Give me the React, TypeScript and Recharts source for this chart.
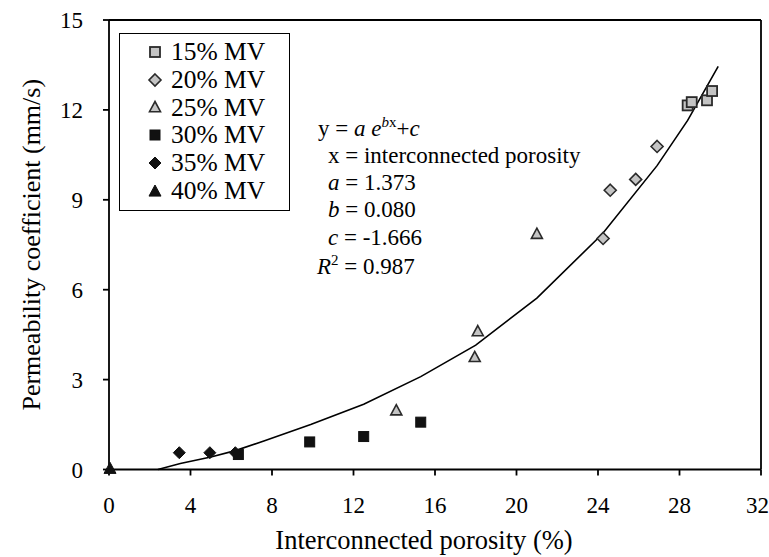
import React from 'react';
import { ComposedChart, Scatter, Line, XAxis, YAxis, ReferenceLine, Label } from 'recharts';

const FONT = "'Liberation Serif', 'Times New Roman', serif";

// measured points per mixture
const mv15X = [28.4, 28.6, 29.35, 29.6];
const mv15Y = [12.15, 12.26, 12.32, 12.63];
const mv20X = [24.25, 24.6, 25.85, 26.9];
const mv20Y = [7.71, 9.32, 9.68, 10.78];
const mv25X = [14.1, 17.95, 18.1, 21.0];
const mv25Y = [1.98, 3.76, 4.62, 7.87];
const mv30X = [6.35, 9.85, 12.5, 15.3];
const mv30Y = [0.5, 0.92, 1.1, 1.58];
const mv35X = [3.45, 4.95, 6.2];
const mv35Y = [0.56, 0.56, 0.56];
const mv40X = [0.05];
const mv40Y = [0.04];

// exponential fit curve
const fitX = [2.4, 3.5, 5.0, 6.2, 7.6, 9.9, 12.5, 15.3, 18.0, 21.0, 24.2, 26.9, 28.4, 29.9];
const fitY = [0, 0.2, 0.42, 0.63, 0.95, 1.5, 2.18, 3.1, 4.15, 5.72, 7.85, 10.14, 11.65, 13.45];

const xTicks = [0, 4, 8, 12, 16, 20, 24, 28, 32];
const yTicks = [0, 3, 6, 9, 12, 15];

const zip = (xs: number[], ys: number[]) => xs.map((x, i) => ({ x, y: ys[i] }));

const GREY = '#c4c4c4';
const EDGE = '#2a2a2a';
const BLACK = '#111';

type Kind = 'square' | 'diamond' | 'triangle';

function marker(kind: Kind, fill: string, stroke: string, s: number, sw: number) {
  return (cx: number, cy: number) => {
    const h = s / 2;
    if (kind === 'square')
      return <rect x={cx - h} y={cy - h} width={s} height={s} fill={fill} stroke={stroke} strokeWidth={sw} />;
    if (kind === 'diamond')
      return <polygon points={`${cx},${cy - h} ${cx + h},${cy} ${cx},${cy + h} ${cx - h},${cy}`} fill={fill} stroke={stroke} strokeWidth={sw} />;
    return <polygon points={`${cx},${cy - h} ${cx + h},${cy + h * 0.85} ${cx - h},${cy + h * 0.85}`} fill={fill} stroke={stroke} strokeWidth={sw} />;
  };
}

const series = [
  { name: '15% MV', data: zip(mv15X, mv15Y), draw: marker('square', GREY, EDGE, 10, 1.8) },
  { name: '20% MV', data: zip(mv20X, mv20Y), draw: marker('diamond', GREY, EDGE, 12, 1.6) },
  { name: '25% MV', data: zip(mv25X, mv25Y), draw: marker('triangle', GREY, EDGE, 11, 1.6) },
  { name: '30% MV', data: zip(mv30X, mv30Y), draw: marker('square', BLACK, BLACK, 10, 1) },
  { name: '35% MV', data: zip(mv35X, mv35Y), draw: marker('diamond', BLACK, BLACK, 12, 1) },
  { name: '40% MV', data: zip(mv40X, mv40Y), draw: marker('triangle', BLACK, BLACK, 12, 1) },
];

const fitData = zip(fitX, fitY);

function LegendBox() {
  return (
    <div style={{ position: 'absolute', left: 119, top: 33, border: '1.6px solid #000', width: 171, height: 178, boxSizing: 'border-box', padding: '4px 0 0 24px', background: '#fff' }}>
      {series.map((s) => (
        <div key={s.name} style={{ display: 'flex', alignItems: 'center', height: 27.8, fontFamily: FONT, fontSize: 25.5, color: '#000' }}>
          <svg width={22} height={16} style={{ marginRight: 5 }}>
            {s.draw(11, 8)}
          </svg>
          <span>{s.name}</span>
        </div>
      ))}
    </div>
  );
}

const eqStyle: React.CSSProperties = { position: 'absolute', fontFamily: FONT, fontSize: 23, color: '#000', whiteSpace: 'nowrap', lineHeight: 1 };
const supStyle: React.CSSProperties = { fontSize: 15, verticalAlign: 'super', lineHeight: 0 };

export default function App() {
  return (
    <div style={{ position: 'absolute', left: 0, top: 0, width: 769, height: 557, background: '#fff' }}>
      <ComposedChart width={769} height={557} margin={{ top: 20, right: 8, bottom: 0, left: 0 }}>
        <XAxis
          type="number"
          dataKey="x"
          domain={[0, 32]}
          ticks={xTicks}
          height={87.5}
          stroke="#000"
          strokeWidth={1.8}
          tickSize={6}
          tickMargin={21}
          tick={{ fill: '#000', fontFamily: FONT, fontSize: 23 }}
          allowDuplicatedCategory={false}
        >
          <Label value="Interconnected porosity (%)" position="insideBottom" offset={8} dx={-11} style={{ fill: '#000', fontFamily: FONT, fontSize: 26.5 }} />
        </XAxis>
        <YAxis
          type="number"
          dataKey="y"
          domain={[0, 15]}
          ticks={yTicks}
          width={109}
          stroke="#000"
          strokeWidth={1.8}
          tickSize={6}
          tickMargin={20}
          tick={{ fill: '#000', fontFamily: FONT, fontSize: 23 }}
        >
          <Label value="Permeability coefficient (mm/s)" angle={-90} position="insideLeft" offset={31} style={{ fill: '#000', fontFamily: FONT, fontSize: 26, textAnchor: 'middle' }} />
        </YAxis>
        <ReferenceLine y={15} stroke="#000" strokeWidth={1.8} />
        <ReferenceLine x={32} stroke="#000" strokeWidth={1.8} />
        <Line data={fitData} dataKey="y" type="linear" stroke="#000" strokeWidth={1.6} dot={false} isAnimationActive={false} legendType="none" />
        {series.map((s) => (
          <Scatter
            key={s.name}
            name={s.name}
            data={s.data}
            isAnimationActive={false}
            shape={(p: any) => s.draw(p.cx, p.cy)}
          />
        ))}
      </ComposedChart>

      <LegendBox />

      <div style={{ ...eqStyle, left: 318, top: 117 }}>
        y = <i>a</i> <i>e</i><span style={supStyle}><i>b</i>x</span>+<i>c</i>
      </div>
      <div style={{ ...eqStyle, left: 328, top: 144 }}>x = interconnected porosity</div>
      <div style={{ ...eqStyle, left: 328, top: 171 }}><i>a</i> = 1.373</div>
      <div style={{ ...eqStyle, left: 328, top: 198 }}><i>b</i> = 0.080</div>
      <div style={{ ...eqStyle, left: 328, top: 226 }}><i>c</i> = -1.666</div>
      <div style={{ ...eqStyle, left: 317, top: 255 }}>
        <i>R</i><span style={supStyle}>2</span> = 0.987
      </div>
    </div>
  );
}
